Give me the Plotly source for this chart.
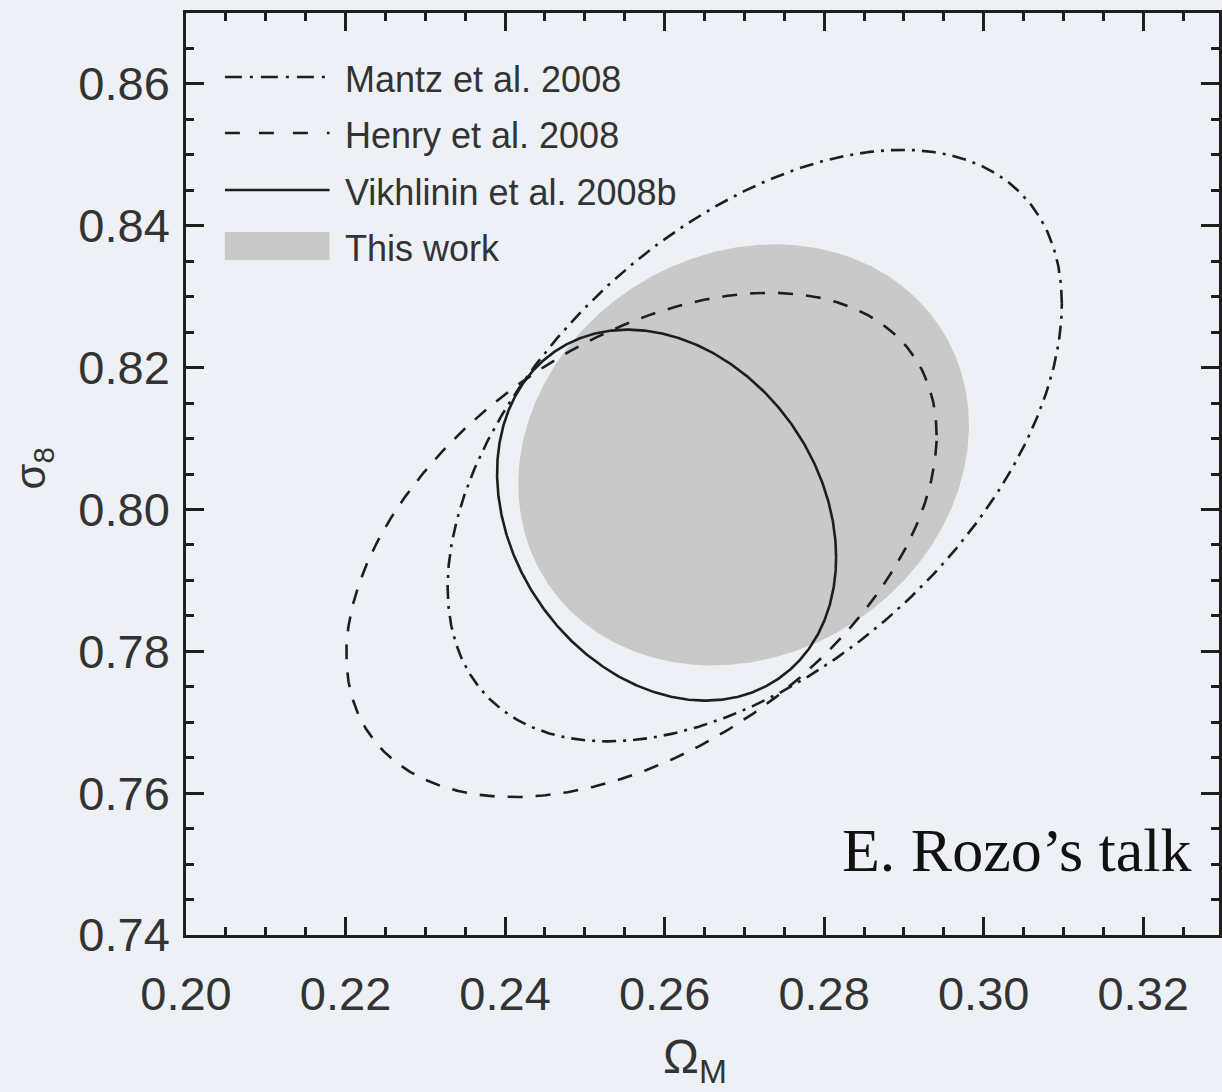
import numpy as np
import plotly.graph_objects as go

# ---- data ----
contour_names = ["Mantz et al. 2008", "Henry et al. 2008", "Vikhlinin et al. 2008b", "This work"]
center_om = [0.2713, 0.2571, 0.26025, 0.2699]      # Omega_M centre of each 1-sigma contour
center_s8 = [0.8090, 0.7950, 0.7992, 0.8077]       # sigma_8 centre
half_om = [0.0385, 0.0370, 0.02125, 0.02825]       # half extent in Omega_M
half_s8 = [0.0417, 0.03555, 0.02615, 0.02969]      # half extent in sigma_8
corr_phase = [0.50, 0.45, -0.23, 0.14]             # degeneracy (tilt) phase

x_ticks = [0.20, 0.22, 0.24, 0.26, 0.28, 0.30, 0.32]
y_ticks = [0.74, 0.76, 0.78, 0.80, 0.82, 0.84, 0.86]

# ---- geometry ----
W, H = 1222, 1092
ML, MR, MT, MB = 186, 0, 13, 157
PW, PH = W - ML - MR, H - MT - MB

def px(xp):
    return (xp - ML) / PW

def py(yp):
    return 1 - (yp - MT) / PH

ink = "#1e1e1e"
gray = "#c9c9c9"
bg = "#edf0f4"
label_col = "#333333"
dash_styles = ["14px,7px,3px,7px", "15px,13px", "solid", None]

t = np.linspace(0, 2 * np.pi, 721)

def contour(i):
    xs = center_om[i] + half_om[i] * np.cos(t)
    ys = center_s8[i] + half_s8[i] * np.sin(t + corr_phase[i])
    return xs, ys

fig = go.Figure()

# filled region (This work)
xs, ys = contour(3)
fig.add_trace(go.Scatter(x=xs, y=ys, mode="lines", fill="toself", fillcolor=gray,
                         line=dict(width=0, color=gray), name=contour_names[3],
                         showlegend=False, hoverinfo="skip"))
for i in range(3):
    xs, ys = contour(i)
    fig.add_trace(go.Scatter(x=xs, y=ys, mode="lines",
                             line=dict(color=ink, width=2.6, dash=dash_styles[i]),
                             name=contour_names[i], showlegend=False))

axis_common = dict(
    showline=True, linecolor=ink, linewidth=2.5, mirror="ticks",
    ticks="inside", ticklen=18, tickwidth=2.5, tickcolor=ink,
    showgrid=False, zeroline=False, tickformat=".2f",
    tickfont=dict(family="Liberation Sans, Arial, sans-serif", size=47, color=label_col),
)

fig.update_xaxes(range=[0.20, 0.20 + PW / 8000.0], tickmode="array", tickvals=x_ticks,
                 minor=dict(dtick=0.005, tick0=0.2, ticks="inside", ticklen=8,
                            tickwidth=2.5, tickcolor=ink),
                 ticklabelstandoff=16, **axis_common)
fig.update_yaxes(range=[0.74, 0.87], tickmode="array", tickvals=y_ticks,
                 minor=dict(dtick=0.005, tick0=0.74, ticks="inside", ticklen=8,
                            tickwidth=2.5, tickcolor=ink),
                 ticklabelstandoff=4, **axis_common)

# ---- manual legend ----
rows_y = [77, 133, 190, 246]
shapes = []
for i in range(3):
    shapes.append(dict(type="line", xref="paper", yref="paper",
                       x0=px(225), x1=px(330), y0=py(rows_y[i]), y1=py(rows_y[i]),
                       line=dict(color=ink, width=2.6,
                                 dash="17px,8px,3px,8px" if i == 0 else ("15px,19px" if i == 1 else "solid"))))
shapes.append(dict(type="rect", xref="paper", yref="paper",
                   x0=px(225), x1=px(330), y0=py(260), y1=py(232),
                   fillcolor=gray, line=dict(width=0)))

annotations = []
for i, name in enumerate(contour_names):
    annotations.append(dict(text=name, xref="paper", yref="paper",
                            x=px(343), y=py(rows_y[i] + 2), xanchor="left", yanchor="middle",
                            showarrow=False,
                            font=dict(family="Liberation Sans, Arial, sans-serif", size=36, color=label_col)))

# axis titles
annotations.append(dict(text="σ<sub>8</sub>", xref="paper", yref="paper",
                        x=px(33), y=py(468), xanchor="center", yanchor="middle", textangle=-90,
                        showarrow=False,
                        font=dict(family="Liberation Sans, Arial, sans-serif", size=42, color=label_col)))
annotations.append(dict(text="Ω<sub>M</sub>", xref="paper", yref="paper",
                        x=px(696), y=py(1060), xanchor="center", yanchor="middle",
                        showarrow=False,
                        font=dict(family="Liberation Sans, Arial, sans-serif", size=48, color=label_col)))
# credit
annotations.append(dict(text="E. Rozo’s talk", xref="paper", yref="paper",
                        x=px(1197), y=py(850), xanchor="right", yanchor="middle",
                        showarrow=False,
                        font=dict(family="Liberation Serif, Times New Roman, serif", size=62, color="#111111")))

fig.update_layout(
    width=W, height=H,
    margin=dict(l=ML, r=MR, t=MT, b=MB, pad=0),
    paper_bgcolor=bg, plot_bgcolor="rgba(0,0,0,0)",
    shapes=shapes, annotations=annotations, showlegend=False,
)

fig.write_html("out.html", config={"displayModeBar": False},
               post_script="document.body.style.margin='0';document.body.style.background='%s';" % bg)
